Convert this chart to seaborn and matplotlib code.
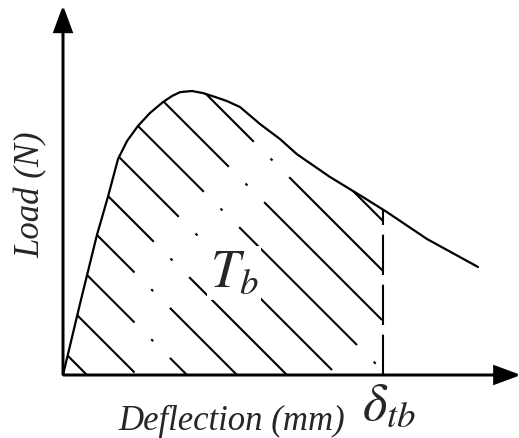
import numpy as np
import matplotlib
matplotlib.use('Agg')
import matplotlib.pyplot as plt
import seaborn as sns
from matplotlib.patches import Polygon

# schematic load-deflection curve (arbitrary units)
deflection = [0.0, 0.53, 1.06, 1.25, 1.41, 1.72, 2.0, 2.34, 2.72, 3.125, 3.41, 3.66,
              4.03, 4.375, 4.75, 5.125, 5.53, 6.16, 6.78, 7.31, 8.34, 9.375, 10.125,
              11.375, 12.97]
load = [0.0, 2.22, 4.375, 5.03, 5.59, 6.75, 7.31, 7.78, 8.19, 8.53, 8.72, 8.84,
        8.875, 8.81, 8.69, 8.56, 8.375, 7.84, 7.375, 6.9, 6.19, 5.56, 5.09,
        4.25, 3.375]
delta_tb = 10.0

sns.set_style('white')
plt.rcParams['font.family'] = ['Liberation Serif', 'DejaVu Serif']
plt.rcParams['mathtext.fontset'] = 'stix'
plt.rcParams['lines.scale_dashes'] = False

fig = plt.figure(figsize=(5.19, 4.39), dpi=100)
ax = fig.add_axes([0, 0, 1, 1])
ax.set_xlim(-63 / 32, 456 / 32)
ax.set_ylim(-63 / 32, 376 / 32)
ax.axis('off')

sns.lineplot(x=deflection, y=load, sort=False, estimator=None, color='black',
             lw=1.6, ax=ax, zorder=4)

# area under the curve up to delta_tb
x = np.array(deflection)
y = np.array(load)
y_tb = np.interp(delta_tb, x, y)
keep = x < delta_tb
region = Polygon(np.c_[np.r_[x[keep], delta_tb, delta_tb], np.r_[y[keep], y_tb, 0]],
                 closed=True, fc='none', ec='none')
ax.add_patch(region)

# dash-dot hatching at 45 degrees
u = np.array([-9.795, 25.0])
for s in 0.75 + 1.5625 * np.arange(10):
    ln, = ax.plot((s + u) / 2, (s - u) / 2, color='black', lw=1.5,
                  ls=(138, (120, 17, 2, 17)), dash_capstyle='butt', zorder=2)
    ln.set_clip_path(region)

ax.plot([delta_tb, delta_tb], [0, y_tb], color='black', lw=1.5,
        ls=(0, (29, 7)), dash_capstyle='butt', zorder=3)

# axes with arrow heads
ax.arrow(0, 0, 0, 11.44, head_width=17 / 32, head_length=23 / 32,
         length_includes_head=True, width=0, lw=1.8, color='black', zorder=5)
ax.arrow(0, 0, 14.2, 0, head_width=17 / 32, head_length=23 / 32,
         length_includes_head=True, width=0, lw=1.8, color='black', zorder=5)

ax.text(4.59, 2.78, r'$T_b$', fontsize=38, ha='left', va='baseline', zorder=6,
        bbox=dict(fc='white', ec='none', pad=2))
ax.text(9.34, -1.375, r'$\delta_{tb}$', fontsize=38, ha='left', va='baseline')
ax.text(5.28, -1.69, 'Deflection (mm)', fontsize=25, style='italic',
        ha='center', va='baseline')
ax.text(-1.0, 5.66, 'Load (N)', fontsize=25, style='italic', rotation=90,
        ha='center', va='center')

fig.savefig('out.png', dpi=100)
